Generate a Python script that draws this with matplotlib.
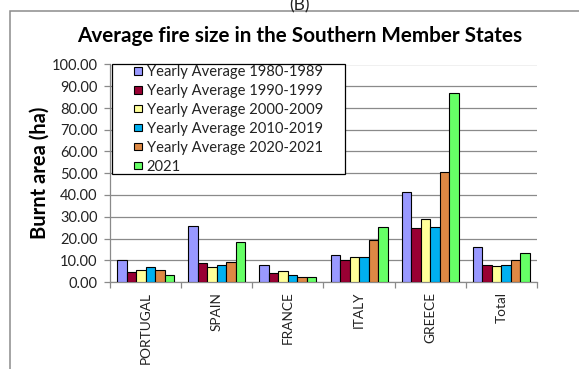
import matplotlib
matplotlib.use("Agg")
import matplotlib.pyplot as plt
from matplotlib.patches import Rectangle
import numpy as np

plt.rcParams['font.family'] = ['Lato', 'DejaVu Sans']

categories = ["PORTUGAL", "SPAIN", "FRANCE", "ITALY", "GREECE", "Total"]
series_names = ["Yearly Average 1980-1989", "Yearly Average 1990-1999",
                "Yearly Average 2000-2009", "Yearly Average 2010-2019",
                "Yearly Average 2020-2021", "2021"]
avg_1980_1989 = [9.9, 25.8, 7.9, 12.4, 41.4, 15.9]
avg_1990_1999 = [4.6, 8.6, 4.1, 10.3, 24.9, 7.6]
avg_2000_2009 = [5.6, 6.9, 4.9, 11.4, 28.8, 7.2]
avg_2010_2019 = [6.9, 7.9, 3.1, 11.7, 25.2, 7.9]
avg_2020_2021 = [5.3, 9.2, 2.2, 19.1, 50.8, 10.1]
year_2021 = [3.1, 18.4, 2.2, 25.3, 86.8, 13.5]
series = [avg_1980_1989, avg_1990_1999, avg_2000_2009, avg_2010_2019, avg_2020_2021, year_2021]
colors = ["#9999FF", "#990033", "#FFFF99", "#00B0F0", "#DD8844", "#66FF66"]
y_ticks = np.arange(0, 101, 10)

W, H = 579, 369
fig = plt.figure(figsize=(W / 100, H / 100), dpi=100)
ax = fig.add_axes([110 / W, 1 - 282 / H, 427 / W, (282 - 64.5) / H])

# outer frame
fig.patches.append(Rectangle((10 / W, -0.1), 1.0, 1 - 11 / H + 0.1, transform=fig.transFigure,
                             fill=False, edgecolor="#8c8c8c", linewidth=1.1))
fig.text(300 / W, 1 - 5 / H, "(B)", ha="center", va="center", fontsize=12.5, color="#222222")

x = np.arange(len(categories))
bw = 0.8 / len(series)
for i, (vals, name, c) in enumerate(zip(series, series_names, colors)):
    ax.bar(x - 0.4 + bw * (i + 0.5), vals, width=bw, color=c, edgecolor="black",
           linewidth=0.8, label=name, zorder=3)

ax.set_xlim(-0.5, len(categories) - 0.5)
ax.set_ylim(0, 100)
ax.set_yticks(y_ticks)
ax.set_yticklabels([f"{v:.2f}" for v in y_ticks], fontsize=10.5, color="#222222")
ax.yaxis.grid(True, color="#8a8a8a", linewidth=0.9, zorder=0)
ax.set_axisbelow(True)
ax.set_xticks(x)
ax.set_xticklabels(categories, rotation=90, fontsize=9.8, color="#222222")
ax.tick_params(axis="x", length=0, pad=7)
ax.set_xticks(np.arange(-0.5, len(categories)), minor=True)
ax.tick_params(axis="x", which="minor", length=4, color="#8a8a8a", width=0.9)
ax.tick_params(axis="y", length=4, color="#8a8a8a", width=0.9, pad=5)
for s in ["top", "right"]:
    ax.spines[s].set_visible(False)
for s in ["left", "bottom"]:
    ax.spines[s].set_color("#8a8a8a")
    ax.spines[s].set_linewidth(0.9)

fig.text(40 / W, 1 - 173 / H, "Burnt area (ha)", rotation=90, ha="center", va="center",
         fontsize=14.5, fontweight="bold")
fig.text(300 / W, 1 - 36 / H, "Average fire size in the Southern Member States",
         ha="center", va="center", fontsize=14.9, fontweight="bold")

# legend box
box = Rectangle((112 / W, 1 - 174 / H), 233 / W, 110 / H, transform=fig.transFigure,
                facecolor="white", edgecolor="black", linewidth=0.9, zorder=4, clip_on=False)
ax.add_patch(box)
leg = ax.legend(loc="upper left", bbox_to_anchor=(134 / W, 1 - 65.3 / H),
                bbox_transform=fig.transFigure, fontsize=10.6,
                frameon=False, handlelength=0.52, handleheight=0.4, handletextpad=0.35,
                labelspacing=0.33, borderpad=0, borderaxespad=0)
for t in leg.get_texts():
    t.set_color("#222222")
leg.set_zorder(5)

fig.savefig("out.png", dpi=100)
